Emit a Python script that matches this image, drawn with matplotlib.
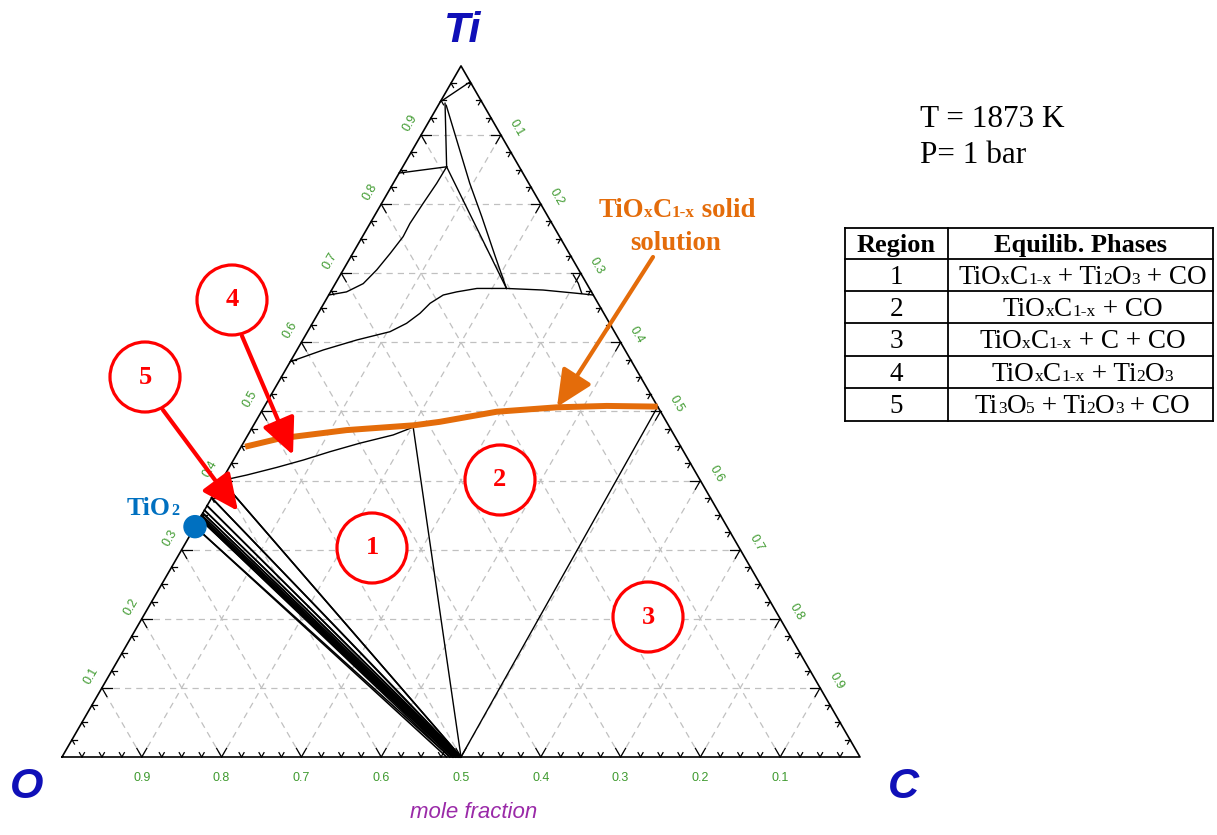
import numpy as np
import matplotlib.pyplot as plt
from matplotlib.patches import Circle
from matplotlib.transforms import IdentityTransform

plt.rcParams['font.family'] = ['Liberation Serif', 'DejaVu Sans']

# compositions as (x_C, x_Ti); x_O = 1 - x_C - x_Ti
apex_cap = [(0.0, 0.948), (0.023, 0.977)]
ti_vertical = [(0.007, 0.946), (0.055, 0.854)]
ti_left = [(0.055, 0.854), (0.0, 0.845)]
ti_curve = [(0.055, 0.854), (0.0545, 0.830), (0.052, 0.801), (0.050, 0.772), (0.051, 0.753),
            (0.047, 0.729), (0.042, 0.705), (0.035, 0.685), (0.020, 0.673), (0.0, 0.6685)]
tie_a = [(0.010, 0.943), (0.096, 0.830), (0.135, 0.782), (0.181, 0.724), (0.218, 0.678)]
tie_b = [(0.055, 0.854), (0.218, 0.678)]
upper_curve = [(0.0, 0.572), (0.033, 0.589), (0.0676, 0.6034), (0.1033, 0.6154), (0.118, 0.6275),
               (0.1276, 0.642), (0.133, 0.6565), (0.1435, 0.6685), (0.158, 0.673), (0.181, 0.678),
               (0.218, 0.678), (0.265, 0.6757), (0.3095, 0.671), (0.3315, 0.6685)]
edge_arc = [(0.292, 0.6975), (0.3043, 0.6854), (0.3158, 0.671)]
region4_line = [(0.0, 0.4), (0.0275, 0.408), (0.0595, 0.419), (0.0875, 0.4297), (0.115, 0.4418),
                (0.146, 0.454), (0.182, 0.466), (0.201, 0.477)]
solid_solution = [(0.005, 0.449), (0.0426, 0.461), (0.120, 0.473), (0.201, 0.480), (0.231, 0.485),
                  (0.295, 0.4996), (0.367, 0.506), (0.4286, 0.508), (0.493, 0.507)]
co_point = (0.5, 0.0)
co_ties_from = [(0.201, 0.478), (0.493, 0.507)]
# Ti oxides on the Ti-O edge (TiO2, Magneli phases, Ti3O5, Ti2O3), x_Ti
oxide_ti = [0.3333, 0.3448, 0.3462, 0.3478, 0.35, 0.3529, 0.3571, 0.3636, 0.375, 0.4]
# gas end of the oxide tie lines on the C-O edge, x_C
gas_c = [0.482, 0.486, 0.489, 0.491, 0.493, 0.495, 0.4965, 0.498, 0.499, 0.5, 0.5]
tio2 = (0.0, 0.3333)

tick_vals = [0.1, 0.2, 0.3, 0.4, 0.5, 0.6, 0.7, 0.8, 0.9]

# rich text runs: (text, is_subscript)
SS = [('TiO', 0), ('x', 1), ('C', 0), ('1-x', 1)]
T23 = [(' + Ti', 0), ('2', 1), ('O', 0), ('3', 1)]
table_head = ['Region', 'Equilib. Phases']
table_regions = ['1', '2', '3', '4', '5']
table_phases = [SS + T23 + [(' + CO', 0)],
                SS + [(' + CO', 0)],
                SS + [(' + C + CO', 0)],
                SS + T23,
                [('Ti', 0), ('3', 1), ('O', 0), ('5', 1)] + T23 + [(' + CO', 0)]]

S3 = np.sqrt(3) / 2
W, H = 1217, 835


def tern(pts):
    a = np.array(pts, dtype=float)
    return a[:, 0] + a[:, 1] / 2, a[:, 1] * S3


def px(x, y):
    return (x - 62) / 798, (757 - y) / 798


fig = plt.figure(figsize=(W / 100, H / 100), dpi=100)
ax = fig.add_axes([0, 0, 1, 1])
ax.set_xlim(-62 / 798, (W - 62) / 798)
ax.set_ylim(-(H - 757) / 798, 757 / 798)
ax.axis('off')
renderer = fig.canvas.get_renderer()


def rich(cx, cy, runs, size, color='black', weight='normal', ha='center'):
    # cx, cy: pixel position (from top-left) of the centre of the capitals
    items = []
    for s, sub in runs:
        t = fig.text(0, 0, s, fontsize=size * (0.64 if sub else 1.0), color=color,
                     fontweight=weight, family='Liberation Serif', va='baseline', ha='left',
                     transform=IdentityTransform(), zorder=10)
        items.append((t, t.get_window_extent(renderer).width))
    total = sum(w for _, w in items)
    x0 = cx - total / 2 if ha == 'center' else cx
    base = H - (cy + 0.331 * size * 100 / 72)
    for t, w in items:
        t.set_position((x0, base))
        x0 += w


# grid
for v in tick_vals:
    for seg in ([(0, v), (1 - v, v)], [(v, 0), (v, 1 - v)], [(1 - v, 0), (0, 1 - v)]):
        x, y = tern(seg)
        ax.plot(x, y, color='#c0c0c0', lw=0.9, ls=(0, (5, 4)), zorder=1)

# triangle
x, y = tern([(0, 0), (1, 0), (0, 1), (0, 0)])
ax.plot(x, y, color='black', lw=1.2, zorder=3)

# ticks
d60 = np.array([0.5, S3])
d120 = np.array([-0.5, S3])
dm60 = np.array([0.5, -S3])
dm120 = np.array([-0.5, -S3])
for t in np.arange(0.025, 0.999, 0.025):
    major = abs(t * 10 - round(t * 10)) < 1e-6
    L = (10 if major else 5) / 798
    for p, dirs in ((tern([(t, 0)]), (d60, d120)),
                    (tern([(0, t)]), (np.array([1, 0]), dm60)),
                    (tern([(1 - t, t)]), (np.array([-1, 0]), dm120))):
        p0 = np.array([p[0][0], p[1][0]])
        for d in dirs:
            ax.plot([p0[0], p0[0] + L * d[0]], [p0[1], p0[1] + L * d[1]], color='black', lw=0.9, zorder=3)

# axis labels
lab_col = '#3f9a2f'
for v in tick_vals:
    bx, by = tern([(v, 0)])
    ax.text(bx[0], by[0] - 21 / 798, '%.1f' % (1 - v), color=lab_col, fontsize=9,
            family='Liberation Sans', ha='center', va='center')
    lx, ly = tern([(0, v)])
    ax.text(lx[0] - 11 / 798, ly[0] + 12 / 798, '%.1f' % v, color=lab_col, fontsize=9,
            family='Liberation Sans', ha='center', va='center', rotation=60)
    rx, ry = tern([(v, 1 - v)])
    ax.text(rx[0] + 16 / 798, ry[0] + 7 / 798, '%.1f' % v, color=lab_col, fontsize=9,
            family='Liberation Sans', ha='center', va='center', rotation=-60)

# phase boundaries
for line in (apex_cap, ti_vertical, ti_left, ti_curve, tie_a, tie_b, upper_curve, edge_arc,
             region4_line):
    x, y = tern(line)
    ax.plot(x, y, color='black', lw=1.0, zorder=4)
for p in co_ties_from:
    x, y = tern([p, co_point])
    ax.plot(x, y, color='black', lw=1.0, zorder=4)
for i, ti in enumerate(oxide_ti):
    for g in (gas_c[i], gas_c[i + 1]):
        x, y = tern([(0.0, ti), (g, 0.0)])
        ax.plot(x, y, color='black', lw=1.15, zorder=4)

x, y = tern(solid_solution)
ax.plot(x, y, color='#e46c0a', lw=4.3, solid_capstyle='butt', zorder=5)

# TiO2 point
x, y = tern([tio2])
ax.add_patch(Circle((x[0], y[0]), 11 / 798, color='#0070c0', zorder=7))
rich(153, 506, [('TiO', 0), ('2', 1)], 18.5, color='#0070c0', weight='bold')

# region markers
circles = {'1': (372, 548), '2': (500, 480), '3': (648, 617), '4': (232, 300), '5': (145, 377)}
for lab, (cx, cy) in circles.items():
    c = px(cx, cy)
    ax.add_patch(Circle(c, 35 / 798, facecolor='white', edgecolor='#ff0000', lw=2.3, zorder=8))
    ax.text(c[0], c[1], lab, color='#ff0000', fontsize=19, fontweight='bold', ha='center',
            va='center', zorder=9)

arrow_red = dict(arrowstyle='-|>,head_length=1.4,head_width=0.65', color='#ff0000', lw=3,
                 mutation_scale=16, shrinkA=0, shrinkB=0)
ax.annotate('', xy=px(293, 455), xytext=px(242, 336), arrowprops=arrow_red, zorder=9)
ax.annotate('', xy=px(238, 511), xytext=px(163, 410), arrowprops=arrow_red, zorder=9)

arrow_or = dict(arrowstyle='-|>,head_length=1.4,head_width=0.65', color='#e46c0a', lw=3,
                mutation_scale=16, shrinkA=0, shrinkB=0)
ax.annotate('', xy=px(557, 407), xytext=px(653, 257), arrowprops=arrow_or, zorder=9)
rich(677, 208, SS + [(' solid', 0)], 19.3, color='#e46c0a', weight='bold')
rich(676, 241, [('solution', 0)], 19.3, color='#e46c0a', weight='bold')

# vertex labels
vfont = dict(family='Liberation Sans', fontsize=31, fontweight='bold', style='italic',
             color='#1010b8', ha='center', va='center')
ax.text(*px(463, 31), 'Ti', **vfont)
ax.text(*px(27, 787), 'O', **vfont)
ax.text(*px(903, 787), 'C', **vfont)
ax.text(*px(474, 812), 'mole fraction', family='Liberation Sans', fontsize=16, style='italic',
        color='#9a2aa8', ha='center', va='center')

rich(920, 117, [('T = 1873 K', 0)], 22.5, ha='left')
rich(920, 153, [('P= 1 bar', 0)], 22.5, ha='left')

# table
col_x = [845, 948, 1213]
row_y = [228, 259, 291, 323, 356, 388, 421]
for yy in row_y:
    ax.plot(*zip(px(col_x[0], yy), px(col_x[-1], yy)), color='black', lw=1.3, zorder=6)
for xx in col_x:
    ax.plot(*zip(px(xx, row_y[0]), px(xx, row_y[-1])), color='black', lw=1.3, zorder=6)
rich((col_x[0] + col_x[1]) / 2, (row_y[0] + row_y[1]) / 2, [(table_head[0], 0)], 19, weight='bold')
rich((col_x[1] + col_x[2]) / 2, (row_y[0] + row_y[1]) / 2, [(table_head[1], 0)], 19, weight='bold')
for i in range(5):
    cy = (row_y[i + 1] + row_y[i + 2]) / 2
    rich((col_x[0] + col_x[1]) / 2, cy, [(table_regions[i], 0)], 19.5)
    rich((col_x[1] + col_x[2]) / 2 + 2, cy, table_phases[i], 19.5)

fig.savefig('out.png', dpi=100)
